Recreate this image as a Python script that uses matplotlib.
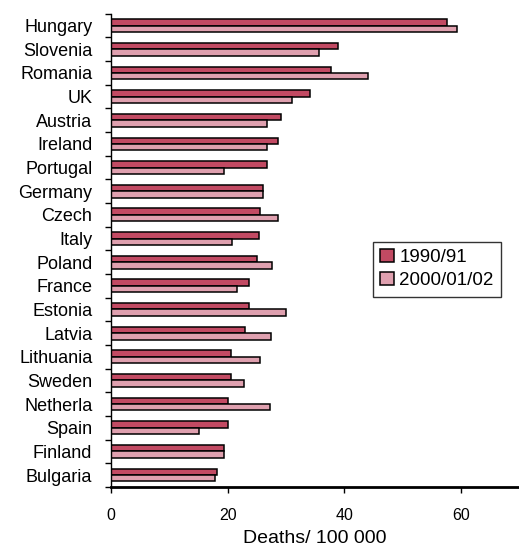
import numpy as np
import matplotlib
matplotlib.use("Agg")
import matplotlib.pyplot as plt

# ---- data (deaths per 100 000) ----
countries = ["Hungary", "Slovenia", "Romania", "UK", "Austria", "Ireland", "Portugal",
             "Germany", "Czech", "Italy", "Poland", "France", "Estonia", "Latvia",
             "Lithuania", "Sweden", "Netherla", "Spain", "Finland", "Bulgaria"]
rate_1990 = [57.7, 38.9, 37.7, 34.1, 29.2, 28.6, 26.8,
             26.1, 25.6, 25.3, 25.0, 23.7, 23.7, 23.0,
             20.6, 20.6, 20.1, 20.1, 19.4, 18.2]
rate_2000 = [59.3, 35.6, 44.1, 31.0, 26.8, 26.8, 19.4,
             26.0, 28.6, 20.7, 27.6, 21.6, 30.1, 27.4,
             25.6, 22.8, 27.3, 15.1, 19.4, 17.9]
series_labels = ["1990/91", "2000/01/02"]
x_ticks = [0, 20, 40, 60]

plt.rcParams["font.family"] = ["Liberation Sans", "DejaVu Sans"]

fig = plt.figure(figsize=(5.19, 5.52), dpi=100)
ax = fig.add_axes([0.214, 0.118, 0.786, 0.857])

y = np.arange(len(countries))
h = 0.27
ax.barh(y - h / 2, rate_1990, height=h, color="#C24A63", edgecolor="black",
        linewidth=1.1, label=series_labels[0])
ax.barh(y + h / 2, rate_2000, height=h, color="#DFA0AF", edgecolor="black",
        linewidth=1.1, label=series_labels[1])

ax.set_ylim(len(countries) - 0.5, -0.5)
ax.set_xlim(0, 70)

# labels at centres, tick marks at category boundaries
ax.set_yticks(y)
ax.set_yticklabels(countries, fontsize=13)
ax.tick_params(axis="y", which="major", length=0, pad=13.5)
ax.set_yticks(np.arange(len(countries) + 1) - 0.5, minor=True)
ax.tick_params(axis="y", which="minor", length=4, width=1, direction="out")

ax.set_xticks(x_ticks)
ax.tick_params(axis="x", length=4, width=1, pad=11, labelsize=11.5)
ax.set_xlabel("Deaths/ 100 000", fontsize=14, labelpad=5)

ax.spines["top"].set_visible(False)
ax.spines["right"].set_visible(False)
ax.spines["left"].set_linewidth(1.0)
ax.spines["bottom"].set_linewidth(2.0)

leg = ax.legend(loc="upper left", bbox_to_anchor=(0.642, 0.518), fontsize=13.5,
                frameon=True, fancybox=False, edgecolor="black",
                handlelength=0.7, handleheight=0.7, handletextpad=0.3,
                borderpad=0.4, labelspacing=0.3, borderaxespad=0)
leg.get_frame().set_linewidth(1.0)

fig.savefig("out.png", dpi=100)
